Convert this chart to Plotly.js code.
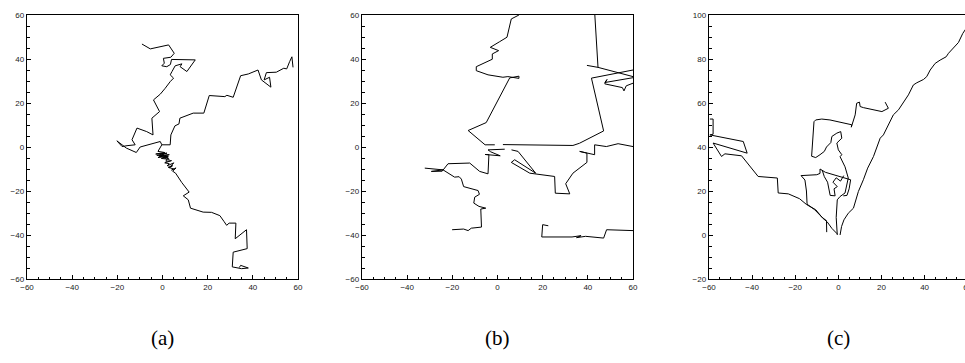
<!DOCTYPE html>
<html>
<head>
<meta charset="utf-8">
<script src="https://cdn.plot.ly/plotly-3.0.1.min.js"></script>
<style>
html,body{margin:0;padding:0;overflow:hidden;background:#fff;}
#chart{width:975px;height:363px;}
</style>
</head>
<body>
<div id="chart"></div>
<script>
// ---------- Panel (a) ----------
const aX1 = [-9.1,-5.4,2.7,5.2,3.7,0.4,0.8,-0.3,1.9,3.5,4,14.5,10.8,7.8,8.6,5.6,4.2,3.4,4.9,3.4,1.2,-1,-4,-1.3,-4.7,-4.2,-7,-11.3,-13.5,-12.1,-15.7,-17.9,-20.2,-16,-11.6,-9.9,-1,-0.3,3.4,3.7,5.5,7.3,7.7,13.6,18.3,20.7,27.6,28.5,31.3,34.6,38,42.3,43.8,48,47.4,45,46,50.4,53.7,55,56.3,57.3,57.8];
const aY1 = [46.8,44.6,46.4,42.6,40.8,40.3,38.1,36.9,36.5,37.5,39.8,39.6,34.3,36.5,37.8,36.9,34.3,32.8,31.3,29.7,26.7,24,21.4,16.1,13.1,5.5,7,8.6,3.3,1,0.6,0.2,2.8,-0.5,-2.5,0,2.5,1,1,5.5,9.6,10.5,13.1,15.4,15.4,23.4,22.9,23.5,22.6,32.4,33.2,35,30.5,27.2,31.7,30.5,33.8,34,35.8,35.5,38.8,41,36.2];
const aX2 = [-0.3,-2,1,-3,2,-2.5,3,-1,0.5,-2,2.5,-1.5,1.5,0,3,-0.5,2.5,1.5,4,1,3,2,5,3,4.5,2.5,5,4,6,4.5,5.8,8.5,11.8,9.2,11.4,12.4,18,21.7,25.4,27.2,28.4,29.5,32.5,32.2,37.2,37.5,31.3,30.9,35,38,34.6,34];
const aY2 = [1,-2,-2.5,-3.2,-2.8,-3.8,-3.5,-4.4,-3.3,-4.8,-4.2,-3.9,-5.2,-3.5,-5.6,-5.2,-4.4,-6.5,-6.2,-7.2,-7.6,-8.6,-7.2,-9.5,-8.5,-9.2,-10,-10.5,-9.5,-11,-11.9,-16.1,-20.5,-22.2,-24,-27.8,-29.6,-29.7,-31.2,-33.8,-35.6,-34.6,-34.6,-41.7,-37.6,-46.2,-47.8,-54.5,-55.3,-55,-53.8,-54.8];

// ---------- Panel (b) ----------
const bX1 = [60,41.6,47,36.3,33.4,2.4];
const bY1 = [35,31.3,7.3,1.7,0.7,1.1];
const bX2 = [-1.2,-5.5,-13,-5,5.4,9.5,9.5,4.6,2.4,-4.2,-9.4,-9.4,-2.3,-2.3,0.5,-3.2,1,4.2,6.1,9.5];
const bY2 = [1,1,7.5,11.1,31.4,32.2,31.2,32,31.7,32.8,34.7,36.5,39.9,42.3,43.8,45.3,47.9,49.9,58.2,60];
const bX3 = [43.1,44.5,60];
const bY3 = [60,36.2,32];
const bX4 = [39.6,44.5];
const bY4 = [37.1,36.2];
const bX5 = [60,47.5,48.5,47.5,55.3,56,57,60];
const bY5 = [31.5,29.3,30.7,28.7,27,25.5,27.8,29];
const bX6 = [-32.2,-24.1,-29.3,-24.5,-21.9,-12.3,-7.9,-4.2,-3.8,-5.5,1.2,-3,-4.2,3.2];
const bY6 = [-9.6,-10.4,-11.1,-11,-7.6,-7.3,-11.1,-12.2,-3.5,-3.4,-4,-2.2,-1.3,-1];
const bX7 = [-24.1,-19,-17,-16,-15,-8.6,-8,-10.1,-10.5,-8.2,-5.2,-7.4,-7.1,-11.6,-13,-15,-20.1];
const bY7 = [-10.4,-13.7,-13.5,-14.6,-18,-19.8,-21.5,-22.8,-25.5,-27,-27.8,-28.2,-36.4,-36.9,-38,-37.3,-37.6];
const bX8 = [6.2,9.1,16.9,7.6,6.1,14.3,25.3,25.6,32,30.2,33.4,39.6,39.6,36.4,39.5,43,43,48.2,53.4,60];
const bY8 = [-1.3,-2,-11.9,-5.8,-7,-11.9,-13.4,-21,-21.3,-16.7,-11.9,-7,-2.8,-2,-2.5,-3.5,1,0.2,1.5,0.2];
const bX9 = [22.5,20,19.6,33,37,35,39,47,48.3,60];
const bY9 = [-35.8,-35.3,-40.9,-40.9,-40.3,-41.2,-40.6,-41.4,-37.6,-38];

// ---------- Panel (c) ----------
const cX1 = [0.8,1.5,2.6,4.6,7,8.2,9.3,11.6,13.6,16.3,19.4,20.9,23.2,25.5,27.9,31,32.5,34.8,36.4,39.5,41,42.6,44.9,47.2,50,51.1,52.6,54.2,55.7,57.7,58.8,60];
const cY1 = [0,3.9,6.9,9.9,12.2,16,19.8,25.1,30.4,35.7,44,45.5,50,54.6,56.9,61.4,63.7,68.2,69.2,70.7,72,75,78,79.5,81,82.6,84.1,85.6,87.5,91.6,93.1,95];
const cX2 = [-0.5,-3,-5.2,-7.3,-10.5,-14.7,-18,-23.2,-27.9,-28.3,-37.2,-44.9,-52.6,-54.2,-58.1,-42.3,-44.1,-59.6,-58.1,-58.1,-59.6];
const cY2 = [0.5,3,6,7.7,11.5,13.8,16.5,18.7,19.1,25.9,26.6,36,36.9,35.7,41.8,37.2,42.5,45.5,45.8,52.7,52.7];
const cX3 = [-5.4,-5.5,-7.5,-11,-14.5,-14.8,-15.5,-17.3,-10,-8.5,-8.5,-6,5.7,5,4,2.3];
const cY3 = [1.3,6.5,8,11.5,14,20,25,27,27.4,28,30,28.5,25.1,21,18,17.8];
const cX4 = [-0.5,-1,-0.5,0.8,3.1,4.6,3.1,0.8,1.6,0,-0.7,1.6,1.1,-0.7,-3,-3.5,-5.5,-6.5,-8.5,-10.5,-12.4,-11.8,-11.3,-10.5,-7.7,-3.9,6.2,6,7.8,8.5,9.8,10.1,11.6,20.2,23.2,21.7];
const cY4 = [0,8,16,17.5,19.1,25.9,31,35.6,36.5,38.7,41.8,44,47,46.3,44.8,42,40,38,36.5,35.2,35.8,43,51.5,52.3,52.7,52.3,50.1,49,54.6,59.9,60.4,58.4,57.9,56.1,57.6,60.4];
const cX5 = [-7.5,-6.5,-5,-4.5,-3.8,-1.5,-2,-0.5,-2.5,-1,1,2.5];
const cY5 = [29.5,26.5,24,21,18,17.8,21,22,24,26,24.5,27];

// ---------- build ----------
function seg(xs, ys){ return {xs, ys}; }
function joined(list){
  const x = [], y = [];
  list.forEach((s, i) => {
    if (i > 0) { x.push(null); y.push(null); }
    s.xs.forEach(v => x.push(v));
    s.ys.forEach(v => y.push(v));
  });
  return {x, y};
}
const A = joined([seg(aX1,aY1), seg(aX2,aY2)]);
const B = joined([seg(bX1,bY1), seg(bX2,bY2), seg(bX3,bY3), seg(bX4,bY4), seg(bX5,bY5), seg(bX6,bY6), seg(bX7,bY7), seg(bX8,bY8), seg(bX9,bY9)]);
const C = joined([seg(cX1,cY1), seg(cX2,cY2), seg(cX3,cY3), seg(cX4,cY4), seg(cX5,cY5)]);

const lineStyle = {color:'#000', width:1};
const traces = [
  {x:A.x, y:A.y, mode:'lines', line:lineStyle, xaxis:'x', yaxis:'y', connectgaps:false},
  {x:B.x, y:B.y, mode:'lines', line:lineStyle, xaxis:'x2', yaxis:'y2', connectgaps:false},
  {x:C.x, y:C.y, mode:'lines', line:lineStyle, xaxis:'x3', yaxis:'y3', connectgaps:false}
];

const W = 975, H = 363;
function ax(range, dom, anchor){
  return {
    range: range, domain: dom, anchor: anchor,
    showgrid:false, zeroline:false,
    showline:true, linecolor:'#000', linewidth:1.2, mirror:true,
    ticks:'inside', ticklen:4, tickwidth:1, tickcolor:'#000',
    dtick:20, tick0:0,
    minor:{ticks:'inside', ticklen:2.5, tickwidth:1, tickcolor:'#000', dtick:5, tick0:0, showgrid:false},
    tickfont:{family:'Liberation Sans, Arial, sans-serif', size:8, color:'#222'},
    fixedrange:true
  };
}
const yDom = [1-279/H, 1-15/H];
const layout = {
  width: W, height: H,
  margin:{l:0, r:0, t:0, b:0},
  paper_bgcolor:'#fff', plot_bgcolor:'#fff',
  showlegend:false,
  xaxis: ax([-60,60], [27/W, 298/W], 'y'),
  yaxis: ax([-60,60], yDom, 'x'),
  xaxis2: ax([-60,60], [362/W, 633/W], 'y2'),
  yaxis2: ax([-60,60], yDom, 'x2'),
  xaxis3: ax([-60,60], [709/W, 967.7/W], 'y3'),
  yaxis3: ax([-20,100], yDom, 'x3'),
  annotations: [
    {text:'(a)', x:162/W, y:1-338/H},
    {text:'(b)', x:497/W, y:1-338/H},
    {text:'(c)', x:838/W, y:1-338/H}
  ].map(a => Object.assign(a, {xref:'paper', yref:'paper', showarrow:false, xanchor:'center', yanchor:'middle',
      font:{family:'Liberation Serif, DejaVu Serif, serif', size:21, color:'#000'}}))
};
Plotly.newPlot('chart', traces, layout, {displayModeBar:false, staticPlot:true});
</script>
</body>
</html>
